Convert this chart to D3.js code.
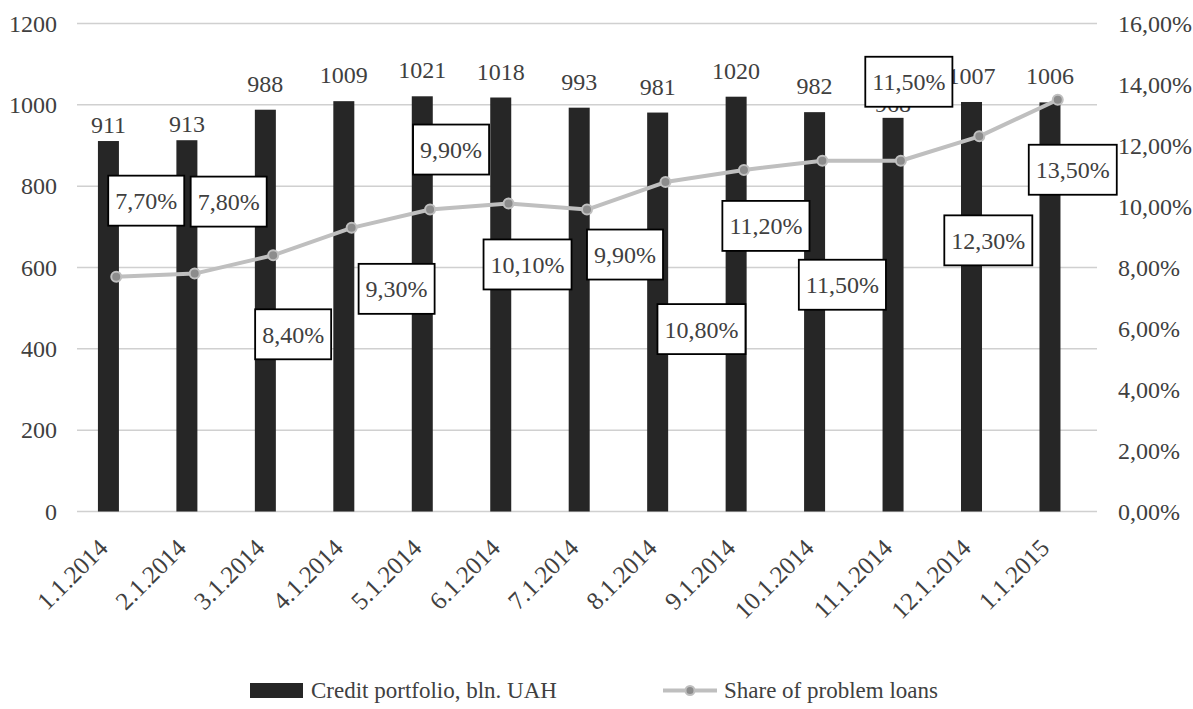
<!DOCTYPE html>
<html>
<head>
<meta charset="utf-8">
<script src="https://cdn.jsdelivr.net/npm/d3@7"></script>
<style>
  html, body { margin: 0; padding: 0; background: #fff; }
  svg { display: block; font-family: "Liberation Serif", "Times New Roman", serif; }
</style>
</head>
<body>
<svg id="chart" width="1193" height="709"></svg>
<script>
// ---- data ----
const categories = ["1.1.2014","2.1.2014","3.1.2014","4.1.2014","5.1.2014","6.1.2014","7.1.2014","8.1.2014","9.1.2014","10.1.2014","11.1.2014","12.1.2014","1.1.2015"];
const creditPortfolio = [911, 913, 988, 1009, 1021, 1018, 993, 981, 1020, 982, 968, 1007, 1006];
const problemShare = [0.077, 0.078, 0.084, 0.093, 0.099, 0.101, 0.099, 0.108, 0.112, 0.115, 0.115, 0.123, 0.135];
const leftTicks = [0, 200, 400, 600, 800, 1000, 1200];
const rightTicks = [0, 0.02, 0.04, 0.06, 0.08, 0.10, 0.12, 0.14, 0.16];
const seriesNames = ["Credit portfolio, bln. UAH", "Share of problem loans"];

// ---- layout (manual label placement, px offsets from point) ----
const shareLabelOffsets = [[30,-76],[34,-72],[20,79],[45,61],[21,-60],[19,61],[38,45],[36,147],[22,56],[20,124],[8,-79],[9,104],[15,70]];
const barLabelLift = [8, 8, 18, 18, 18, 18, 18, 18, 18, 18, 6, 18, 18];

const M = { left: 77, right: 1097, top: 23.5, bottom: 511.5 };
const textColor = "#404040";
const fontSize = 24;

const svg = d3.select("#chart");
const loc = d3.formatLocale({ decimal: ",", thousands: " ", grouping: [3], currency: ["", ""] });
const pct = loc.format(".2%");

const x = d3.scaleBand().domain(categories).range([M.left, M.right]);
const yL = d3.scaleLinear().domain([0, 1200]).range([M.bottom, M.top]);
const yR = d3.scaleLinear().domain([0, 0.16]).range([M.bottom, M.top]);
const cx = c => x(c) + x.bandwidth() / 2;
const barW = 21, barShift = -7.8;

// gridlines
svg.append("g").selectAll("line").data(leftTicks).join("line")
  .attr("x1", M.left).attr("x2", M.right)
  .attr("y1", d => yL(d)).attr("y2", d => yL(d))
  .attr("stroke", "#d0d0d0").attr("stroke-width", 1.5);

// left axis
const gl = svg.append("g").attr("transform", `translate(${M.left},0)`)
  .call(d3.axisLeft(yL).tickValues(leftTicks).tickSize(0).tickPadding(20).tickFormat(d3.format("d")));
gl.select(".domain").remove();
gl.selectAll("text").attr("font-size", fontSize).attr("fill", textColor).attr("font-family", "Liberation Serif");

// right axis
const gr = svg.append("g").attr("transform", `translate(${M.right},0)`)
  .call(d3.axisRight(yR).tickValues(rightTicks).tickSize(0).tickPadding(21).tickFormat(pct));
gr.select(".domain").remove();
gr.selectAll("text").attr("font-size", fontSize).attr("fill", textColor).attr("font-family", "Liberation Serif");

// x axis
const gx = svg.append("g").attr("transform", `translate(0,${M.bottom})`)
  .call(d3.axisBottom(x).tickSize(0).tickPadding(0));
gx.select(".domain").remove();
gx.selectAll("text")
  .attr("font-size", 25).attr("fill", textColor).attr("font-family", "Liberation Serif")
  .attr("text-anchor", "end").attr("dy", 0).attr("y", 0)
  .attr("transform", "translate(-7,38) rotate(-45)");

// bars
svg.append("g").selectAll("rect").data(categories).join("rect")
  .attr("x", (c) => cx(c) + barShift - barW / 2)
  .attr("width", barW)
  .attr("y", (c, i) => yL(creditPortfolio[i]))
  .attr("height", (c, i) => yL(0) - yL(creditPortfolio[i]))
  .attr("fill", "#262626");

// bar labels
svg.append("g").selectAll("text").data(categories).join("text")
  .attr("x", c => cx(c) + barShift)
  .attr("y", (c, i) => yL(creditPortfolio[i]) - barLabelLift[i])
  .attr("text-anchor", "middle")
  .attr("font-size", fontSize).attr("fill", textColor)
  .text((c, i) => creditPortfolio[i]);

// line
const line = d3.line().x((d, i) => cx(categories[i])).y(d => yR(d));
svg.append("path").datum(problemShare)
  .attr("d", line).attr("fill", "none")
  .attr("stroke", "#bfbfbf").attr("stroke-width", 4).attr("stroke-linejoin", "round");
svg.append("g").selectAll("circle").data(problemShare).join("circle")
  .attr("cx", (d, i) => cx(categories[i])).attr("cy", d => yR(d))
  .attr("r", 5).attr("fill", "#8c8c8c").attr("stroke", "#bfbfbf").attr("stroke-width", 2);

// boxed labels
const lg = svg.append("g");
problemShare.forEach((d, i) => {
  const px = cx(categories[i]) + shareLabelOffsets[i][0];
  const py = yR(d) + shareLabelOffsets[i][1];
  const g = lg.append("g").attr("transform", `translate(${px},${py})`);
  const r = g.append("rect");
  const t = g.append("text").attr("text-anchor", "middle").attr("dy", "0.35em")
    .attr("font-size", fontSize).attr("fill", textColor).text(pct(d));
  const w = t.node().getComputedTextLength() + 14;
  const h = 50;
  r.attr("x", -w / 2).attr("y", -h / 2).attr("width", w).attr("height", h)
    .attr("fill", "#fff").attr("stroke", "#000").attr("stroke-width", 1.8);
});

// legend
const leg = svg.append("g");
leg.append("rect").attr("x", 250).attr("y", 683).attr("width", 53).attr("height", 15).attr("fill", "#262626");
leg.append("text").attr("x", 311).attr("y", 698).attr("font-size", 23).attr("fill", textColor).text(seriesNames[0]);
leg.append("line").attr("x1", 663).attr("x2", 717).attr("y1", 690.5).attr("y2", 690.5).attr("stroke", "#bfbfbf").attr("stroke-width", 4);
leg.append("circle").attr("cx", 690).attr("cy", 690.5).attr("r", 4.5).attr("fill", "#8c8c8c").attr("stroke", "#bfbfbf").attr("stroke-width", 2);
leg.append("text").attr("x", 724).attr("y", 698).attr("font-size", 23).attr("fill", textColor).text(seriesNames[1]);
</script>
</body>
</html>
